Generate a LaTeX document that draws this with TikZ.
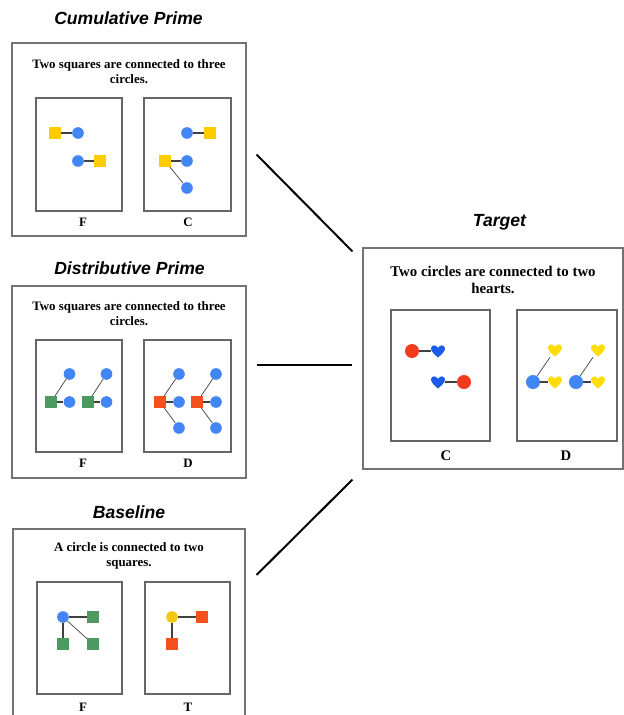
\documentclass[tikz,border=0pt]{standalone}
\usepackage{fontspec}
\setmainfont{Liberation Serif}
\newfontfamily\headfont{Liberation Sans}
\usetikzlibrary{fit}

\definecolor{gold}{HTML}{FFCC00}
\definecolor{sun}{HTML}{F2C80C}
\definecolor{lemon}{HTML}{FFDD00}
\definecolor{sky}{HTML}{4285F4}
\definecolor{navy}{HTML}{1B5BE8}
\definecolor{leaf}{HTML}{4C9A60}
\definecolor{rust}{HTML}{F4511E}
\definecolor{ruby}{HTML}{F23A1E}

\tikzset{
  panel/.style={draw=black!55, line width=0.9pt, inner sep=0pt},
  card/.style={draw=black!60, line width=0.9pt, inner sep=0pt},
  head/.style={font=\headfont\bfseries\itshape\fontsize{15}{18}\selectfont},
  caption/.style={font=\bfseries\fontsize{11}{12.75}\selectfont, align=center},
  bigcaption/.style={font=\bfseries\fontsize{12.7}{14.5}\selectfont, align=center},
  tag/.style={font=\bfseries\fontsize{11}{13}\selectfont},
  bigtag/.style={font=\bfseries\fontsize{12.5}{14}\selectfont},
  dot/.style={circle, fill=#1, inner sep=0pt, minimum size=0.35cm},
  bigdot/.style={circle, fill=#1, inner sep=0pt, minimum size=0.42cm},
  sq/.style={rectangle, fill=#1, inner sep=0pt, minimum size=0.34cm},
  hrt/.style={rectangle, inner sep=0pt, minimum size=0.42cm,
    path picture={\fill[#1, shift={(path picture bounding box.center)}]
      (0,6.5) .. controls (-3.5,3.5) and (-7,0.5) .. (-7,-2.5)
      .. controls (-7,-6) and (-2,-7) .. (0,-3.2)
      .. controls (2,-7) and (7,-6) .. (7,-2.5)
      .. controls (7,0.5) and (3.5,3.5) .. (0,6.5) -- cycle;}},
  bond/.style={draw=black!75, line width=0.9pt},
  link/.style={line width=1.7pt}
}

\begin{document}
\begin{tikzpicture}[x=0.03cm, y=-0.03cm]
\path[use as bounding box, clip] (0,0) rectangle (624,715);

% Cumulative Prime
\node[head] (tcum) at (128.5,18) {Cumulative Prime};
\node[panel, fit={(12,43) (246,236)}] (cum) {};
\node[caption] (qcum) at (129,71.5) {Two squares are connected to three\\circles.};
\node[card, fit={(36,98) (122,211)}] (cumf) {};
\node[card, fit={(144,98) (231,211)}] (cumc) {};
\node[tag] at (83,222) {F};
\node[tag] at (188,222) {C};
\node[sq=gold] (cf1) at (55,133) {};
\node[dot=sky] (cf2) at (78,133) {};
\node[dot=sky] (cf3) at (78,161) {};
\node[sq=gold] (cf4) at (100,161) {};
\draw[bond] (cf1) -- (cf2) (cf3) -- (cf4);
\node[dot=sky] (cc1) at (187,133) {};
\node[sq=gold] (cc2) at (210,133) {};
\node[sq=gold] (cc3) at (165,161) {};
\node[dot=sky] (cc4) at (187,161) {};
\node[dot=sky] (cc5) at (187,188) {};
\draw[bond] (cc1) -- (cc2) (cc3) -- (cc4);
\draw[bond, line width=0.6pt] (cc3) -- (cc5);

% Distributive Prime
\node[head] (tdis) at (129.5,268) {Distributive Prime};
\node[panel, fit={(12,286) (246,478)}] (dis) {};
\node[caption] (qdis) at (129,314) {Two squares are connected to three\\circles.};
\node[card, fit={(36,340) (122,452)}] (disf) {};
\node[card, fit={(144,340) (231,452)}] (disd) {};
\node[tag] at (83,463) {F};
\node[tag] at (188,463) {D};
\foreach \i/\x in {1/51, 2/88} {
  \node[sq=leaf] (dfs\i) at (\x,402) {};
  \node[dot=sky] (dfa\i) at (\x+18.5,374) {};
  \node[dot=sky] (dfb\i) at (\x+18.5,402) {};
  \draw[bond] (dfs\i) -- (dfb\i);
  \draw[bond, line width=0.6pt] (dfs\i) -- (dfa\i);
}
\foreach \i/\x in {1/160, 2/197} {
  \node[sq=rust] (dds\i) at (\x,402) {};
  \node[dot=sky] (dda\i) at (\x+19,374) {};
  \node[dot=sky] (ddb\i) at (\x+19,402) {};
  \node[dot=sky] (ddc\i) at (\x+19,428) {};
  \draw[bond] (dds\i) -- (ddb\i);
  \draw[bond, line width=0.6pt] (dds\i) -- (dda\i) (dds\i) -- (ddc\i);
}

% Baseline
\node[head] (tbas) at (129,512) {Baseline};
\node[panel, fit={(13,529) (245,730)}] (bas) {};
\node[caption] (qbas) at (129,556) {A circle is connected to two\\squares.};
\node[card, fit={(37,582) (122,694)}] (basf) {};
\node[card, fit={(145,582) (230,694)}] (bast) {};
\node[tag] at (83,707) {F};
\node[tag] at (188,707) {T};
\node[dot=sky] (bf1) at (63,617) {};
\node[sq=leaf] (bf2) at (93,617) {};
\node[sq=leaf] (bf3) at (63,644) {};
\node[sq=leaf] (bf4) at (93,644) {};
\draw[bond] (bf1) -- (bf2) (bf1) -- (bf3);
\draw[bond, line width=0.6pt] (bf1) -- (bf4);
\node[dot=sun] (bt1) at (172,617) {};
\node[sq=rust] (bt2) at (202,617) {};
\node[sq=rust] (bt3) at (172,644) {};
\draw[bond] (bt1) -- (bt2) (bt1) -- (bt3);

% Target
\node[head] (ttgt) at (499.5,222) {Target};
\node[panel, fit={(363,248) (623,469)}] (tgt) {};
\node[bigcaption] (qtgt) at (493,279.5) {Two circles are connected to two\\hearts.};
\node[card, fit={(391,310) (490,441)}] (tgtc) {};
\node[card, fit={(517,310) (617,441)}] (tgtd) {};
\node[bigtag] at (446,456) {C};
\node[bigtag] at (566,456) {D};
\node[bigdot=ruby] (tc1) at (412,351) {};
\node[hrt=navy] (tc2) at (438,351) {};
\node[hrt=navy] (tc3) at (438,382) {};
\node[bigdot=ruby] (tc4) at (464,382) {};
\draw[bond] (tc1) -- (tc2) (tc3) -- (tc4);
\foreach \i/\x in {1/533, 2/576} {
  \node[bigdot=sky] (tdc\i) at (\x,382) {};
  \node[hrt=lemon] (tda\i) at (\x+22,350) {};
  \node[hrt=lemon] (tdb\i) at (\x+22,382) {};
  \draw[bond] (tdc\i) -- (tdb\i);
  \draw[bond, line width=0.6pt] (tdc\i) -- (tda\i);
}

% links to the target
\draw[link] ([shift={(10,15)}]cum.east) -- ([shift={(-10,4)}]tgt.north west);
\draw[link] ([shift={(10,-17)}]dis.east) -- ([shift={(-10,6.5)}]tgt.west);
\draw[link] ([shift={(11,-54.5)}]bas.east) -- ([shift={(-10,10)}]tgt.south west);
\end{tikzpicture}
\end{document}
